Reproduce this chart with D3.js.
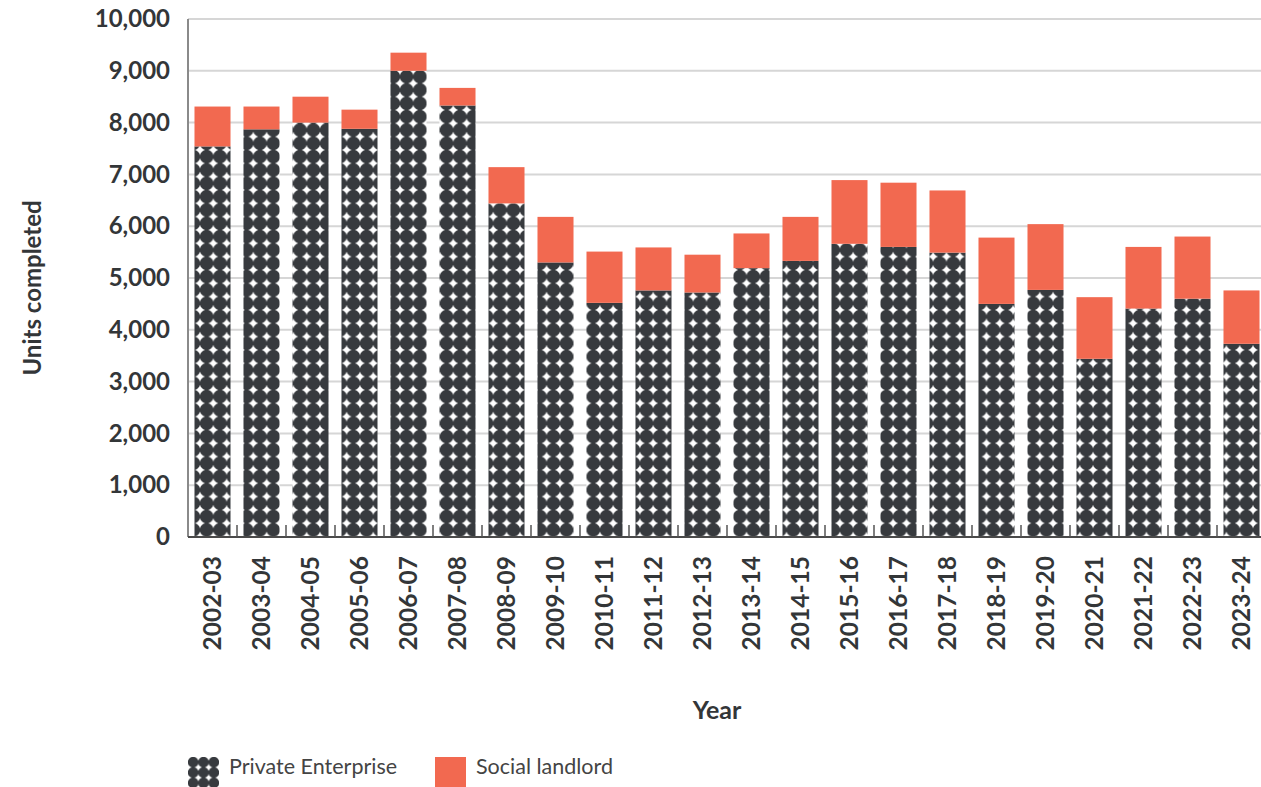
<!DOCTYPE html>
<html>
<head>
<meta charset="utf-8">
<script src="https://cdn.jsdelivr.net/npm/d3@7"></script>
<style>
  html, body { margin: 0; padding: 0; background: #fff; }
  svg { display: block; font-family: Lato, "Open Sans", sans-serif; }
</style>
</head>
<body>
<svg id="chart" width="1261" height="787"></svg>
<script>
// Housing completions by tenure, financial years
const categories = ["2002-03","2003-04","2004-05","2005-06","2006-07","2007-08","2008-09","2009-10",
  "2010-11","2011-12","2012-13","2013-14","2014-15","2015-16","2016-17","2017-18","2018-19",
  "2019-20","2020-21","2021-22","2022-23","2023-24"];
const privateEnterprise = [7540, 7870, 8000, 7880, 9000, 8330, 6440, 5300, 4520, 4760, 4720, 5190,
  5330, 5660, 5600, 5490, 4500, 4770, 3440, 4410, 4600, 3730];
const socialLandlord = [770, 440, 500, 370, 350, 340, 700, 880, 990, 830, 730, 670,
  850, 1230, 1240, 1200, 1280, 1270, 1190, 1190, 1200, 1030];
const yTicks = [0, 1000, 2000, 3000, 4000, 5000, 6000, 7000, 8000, 9000, 10000];
const seriesNames = ["Private Enterprise", "Social landlord"];

(function draw() {
  const svg = d3.select("#chart");
  const W = 1261;
  const plotLeft = 188, plotBottom = 537, plotTop = 19;
  const darkCol = "#373a3e", redCol = "#f26950", textCol = "#333638";

  const x = d3.scaleBand().domain(categories).range([plotLeft, plotLeft + 49 * 22])
    .paddingInner(0.265).paddingOuter(0.1325);
  const y = d3.scaleLinear().domain([0, 10000]).range([plotBottom, plotTop]);

  // Dot pattern: dark discs on a square grid, white star-shaped gaps between them
  const defs = svg.append("defs");
  function dotPattern(id, size, ox, oy) {
    const p = defs.append("pattern").attr("id", id)
      .attr("patternUnits", "userSpaceOnUse")
      .attr("x", ox).attr("y", oy).attr("width", size).attr("height", size);
    p.append("rect").attr("width", size).attr("height", size).attr("fill", "#fff");
    p.append("circle").attr("cx", size / 2).attr("cy", size / 2).attr("r", size * 0.515).attr("fill", darkCol);
  }
  dotPattern("dots", 13.33, 200, 203.3);
  dotPattern("dotsLegend", 10.33, 188, 757);

  // Gridlines
  svg.append("g").selectAll("line").data(yTicks.filter(d => d > 0)).join("line")
    .attr("x1", plotLeft).attr("x2", W)
    .attr("y1", d => y(d)).attr("y2", d => y(d))
    .attr("stroke", "#d6d6d6").attr("stroke-width", 2);

  // Stacked bars
  const rows = categories.map((c, i) => ({ c, p: privateEnterprise[i], s: socialLandlord[i] }));
  const stacked = d3.stack().keys(["p", "s"])(rows);
  const fills = ["url(#dots)", redCol];
  svg.append("g").selectAll("g").data(stacked).join("g")
    .attr("fill", (d, i) => fills[i])
    .selectAll("rect").data(d => d).join("rect")
    .attr("x", d => x(d.data.c))
    .attr("width", x.bandwidth())
    .attr("y", d => y(d[1]))
    .attr("height", d => y(d[0]) - y(d[1]));

  // Left axis line
  svg.append("line").attr("x1", plotLeft).attr("x2", plotLeft).attr("y1", plotTop).attr("y2", plotBottom)
    .attr("stroke", "#8a8a8a").attr("stroke-width", 2);

  // Bottom axis with short inward ticks at band boundaries
  svg.append("line").attr("x1", plotLeft).attr("x2", W).attr("y1", plotBottom).attr("y2", plotBottom)
    .attr("stroke", "#4a4a4a").attr("stroke-width", 2);
  const halfGap = x.step() * x.paddingInner() / 2;
  svg.append("g").selectAll("line").data(categories.slice(1)).join("line")
    .attr("x1", d => x(d) - halfGap)
    .attr("x2", d => x(d) - halfGap)
    .attr("y1", plotBottom).attr("y2", plotBottom - 12)
    .attr("stroke", "#555").attr("stroke-width", 1.5);

  // Y tick labels
  const yAxis = d3.axisLeft(y).tickValues(yTicks).tickFormat(d3.format(",")).tickSize(0).tickPadding(18);
  const ya = svg.append("g").attr("transform", `translate(${plotLeft},0)`).call(yAxis);
  ya.select(".domain").remove();
  ya.selectAll("text").attr("fill", textCol).style("font-size", "24px").style("font-weight", 700)
    .style("font-family", "Lato, sans-serif");

  // X tick labels, rotated
  const xAxis = d3.axisBottom(x).tickSize(0).tickPadding(0);
  const xa = svg.append("g").attr("transform", `translate(0,${plotBottom})`).call(xAxis);
  xa.select(".domain").remove();
  xa.selectAll("text").attr("fill", textCol).style("font-size", "24.5px").style("font-weight", 700)
    .style("font-family", "Lato, sans-serif")
    .attr("transform", "rotate(-90)").attr("text-anchor", "end")
    .attr("x", -19).attr("y", 0).attr("dy", "0.35em");

  // Axis titles
  svg.append("text").attr("transform", "translate(41,288) rotate(-90)")
    .attr("text-anchor", "middle").attr("fill", textCol)
    .style("font-size", "24px").style("font-weight", 700).text("Units completed");
  svg.append("text").attr("x", 717).attr("y", 719).attr("text-anchor", "middle").attr("fill", textCol)
    .style("font-size", "25px").style("font-weight", 700).text("Year");

  // Legend
  const legend = svg.append("g");
  const legendX = [188, 435];
  const legendFill = ["url(#dotsLegend)", redCol];
  seriesNames.forEach((name, i) => {
    legend.append("rect").attr("x", legendX[i]).attr("y", 757).attr("width", 31).attr("height", 30)
      .attr("fill", legendFill[i]);
    legend.append("text").attr("x", legendX[i] + 41).attr("y", 774).attr("fill", "#444")
      .style("font-size", "21.5px").style("font-weight", 400).text(name);
  });
})();
</script>
</body>
</html>
